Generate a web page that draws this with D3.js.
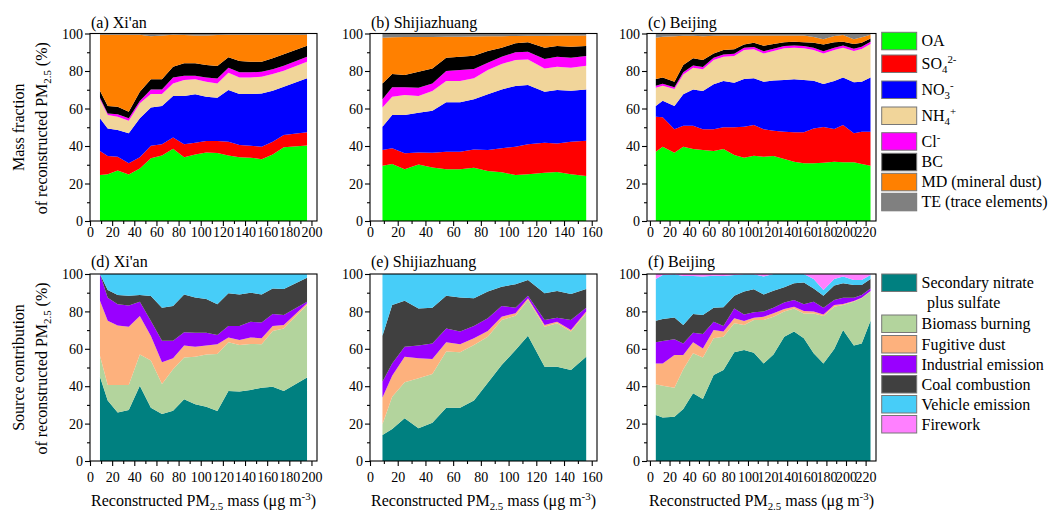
<!DOCTYPE html>
<html><head><meta charset="utf-8">
<script src="https://cdn.jsdelivr.net/npm/d3@7"></script>
<style>
body{margin:0;background:#fff}
text{font-family:"Liberation Serif","Times New Roman",serif;fill:#000}
</style>
</head><body>
<svg id="c" width="1051" height="514"></svg>
<script>
// ---------- x positions (PM2.5 bins, ug m-3) ----------
const xXian = [9, 16, 25, 35, 45, 55, 65, 75, 85, 95, 105, 115, 125, 135, 145, 155, 165, 175, 196];
const xSjz  = [9, 16, 25, 35, 45, 55, 65, 75, 85, 95, 105, 114, 126, 135, 145, 156];
const xBj   = [6, 13, 25, 34, 44, 54, 65, 75, 86, 96, 106, 116, 126, 137, 147, 157, 167, 177, 188, 197, 208, 216, 225];

// ---------- chemical mass fractions (%) ----------
const xianOA  = [24.5, 25, 27, 24.8, 28, 33.5, 35, 38.5, 34, 35.5, 36.5, 36.3, 35, 34, 33.8, 33, 35.5, 39.3, 40.3];
const xianSO4 = [12.8, 9.7, 7.3, 6.0, 6.0, 6.7, 6.0, 6.1, 7.0, 6.3, 6.2, 6.4, 7.3, 6.5, 6.4, 6.6, 6.8, 6.6, 7.0];
const xianNO3 = [17.5, 14.7, 14.2, 16.0, 20.8, 20.4, 20.3, 22.1, 25.7, 25.8, 23.6, 23.1, 27.6, 27.2, 27.5, 28.4, 27.2, 25.7, 28.8];
const xianNH4 = [10.1, 7.1, 7.1, 6.7, 8.0, 7.1, 6.4, 6.7, 8.5, 8.0, 8.0, 7.6, 9.2, 8.9, 8.9, 9.0, 8.9, 8.6, 8.9];
const xianCl  = [0.8, 0.9, 1.4, 1.3, 1.2, 2.5, 2.5, 3.2, 2.3, 1.9, 2.3, 2.6, 2.7, 2.7, 2.7, 2.6, 2.6, 2.6, 2.6];
const xianBC  = [3.8, 3.9, 4.0, 3.5, 5.0, 5.4, 5.4, 5.7, 6.6, 6.6, 6.6, 6.7, 5.5, 6.0, 5.7, 5.4, 5.8, 6.1, 5.9];
const xianMD  = [29.8, 38.0, 38.3, 41.0, 30.3, 23.0, 23.4, 17.0, 15.1, 14.9, 15.8, 16.5, 12.0, 14.0, 14.3, 14.3, 12.5, 10.4, 5.8];
const xianTE  = [0.7, 0.7, 0.7, 0.7, 0.7, 1.4, 1.0, 0.7, 0.8, 1.0, 1.0, 0.8, 0.7, 0.7, 0.7, 0.7, 0.7, 0.7, 0.7];

const sjzOA  = [29.5, 30.4, 27.6, 30.2, 28.6, 27.6, 27.6, 28.4, 26.7, 26, 24.5, 25, 25.8, 26.1, 24.9, 24];
const sjzSO4 = [8.4, 8.4, 8.5, 6.4, 7.8, 9.4, 9.4, 9.8, 11.2, 12.8, 15.1, 15.9, 16.0, 15.3, 17.4, 18.8];
const sjzNO3 = [12.4, 17.7, 20.4, 21.2, 22.4, 26.3, 26.3, 26.7, 29.7, 31.4, 32.4, 31.6, 27.2, 28.5, 27.2, 27.4];
const sjzNH4 = [10.3, 9.8, 10.7, 8.9, 10.5, 11.4, 11.4, 11.2, 12.9, 13.5, 13.9, 13.7, 12.4, 12.4, 12.3, 12.6];
const sjzCl  = [4.3, 5.0, 4.1, 4.4, 4.1, 5.3, 5.8, 5.0, 3.9, 3.9, 4.1, 4.1, 5.0, 5.3, 5.3, 5.2];
const sjzBC  = [8.5, 7.1, 6.6, 8.5, 8.0, 7.1, 7.1, 7.1, 6.3, 4.8, 4.8, 5.0, 6.0, 5.7, 5.9, 5.3];
const sjzMD  = [24.4, 19.6, 20.2, 18.6, 16.8, 11.2, 10.7, 10.2, 7.8, 6.2, 3.9, 3.5, 6.4, 5.6, 5.9, 5.7];
const sjzTE  = [2.2, 2.0, 1.9, 1.8, 1.8, 1.7, 1.7, 1.6, 1.5, 1.4, 1.3, 1.2, 1.2, 1.1, 1.1, 1.0];

const bjOA  = [37, 39.6, 36.4, 39.6, 38.4, 37.9, 37.3, 38.4, 35.2, 33.8, 34.8, 34.3, 34.7, 33.1, 31.6, 30.8, 30.8, 31.1, 31.6, 31.3, 31.3, 30.4, 29.5];
const bjSO4 = [18.6, 15.7, 12.5, 11.2, 12.4, 11.0, 11.6, 11.6, 14.8, 16.5, 16.4, 14.6, 13.5, 14.5, 15.7, 16.5, 18.6, 19.0, 17.5, 19.9, 15.5, 17.2, 18.1];
const bjNO3 = [5.7, 8.9, 12.4, 16.8, 19.4, 20.4, 24.0, 24.7, 23.8, 25.4, 24.9, 25.4, 26.8, 27.6, 28.3, 27.9, 25.4, 23.0, 25.6, 25.4, 27.2, 26.7, 29.0];
const bjNH4 = [9.8, 8.0, 9.1, 10.6, 11.6, 11.6, 13.0, 12.9, 14.2, 15.5, 15.5, 15.1, 15.7, 16.9, 16.8, 16.9, 16.4, 16.3, 16.5, 15.8, 16.7, 17.4, 17.8];
const bjCl  = [1.0, 1.0, 1.0, 1.2, 1.2, 1.2, 1.2, 1.2, 1.2, 1.2, 1.2, 1.2, 1.2, 1.2, 1.2, 1.2, 1.2, 1.2, 1.2, 1.2, 1.2, 1.2, 1.2];
const bjBC  = [3.6, 3.4, 2.9, 3.8, 3.8, 3.8, 2.3, 2.4, 2.4, 1.8, 2.3, 2.9, 2.5, 2.0, 2.0, 2.0, 2.7, 3.6, 2.9, 2.0, 2.5, 2.2, 1.8];
const bjMD  = [22.1, 21.7, 24.3, 15.6, 12.0, 12.6, 9.4, 7.8, 7.4, 4.8, 3.9, 5.5, 4.6, 3.7, 3.4, 3.7, 3.1, 2.8, 3.4, 3.6, 2.6, 2.9, 2.0];
const bjTE  = [2.2, 1.7, 1.4, 1.2, 1.2, 1.5, 1.2, 1.0, 1.0, 1.0, 1.0, 1.0, 1.0, 1.0, 1.0, 1.0, 1.8, 3.0, 1.3, 0.8, 3.0, 2.0, 0.6];

// ---------- source contributions (%) ----------
const xianSNS = [45.1, 32.3, 26, 27.3, 40.3, 28.5, 25.1, 26.9, 33, 30.3, 29, 26.7, 37.4, 37.1, 38, 39.2, 39.7, 37.4, 44.7];
const xianBB  = [11.2, 8.3, 14.6, 13.3, 16.7, 25.2, 16.1, 22.1, 22.3, 25.5, 28, 30.5, 26.1, 24.9, 24.6, 23.2, 29.8, 33.5, 38.7];
const xianFD  = [29.4, 34.4, 31.8, 31.2, 20.5, 13.1, 11.6, 5.9, 6.4, 5.3, 4.7, 5.2, 2.5, 2.7, 3.5, 3.2, 2.7, 1.8, 0.9];
const xianIE  = [14.3, 12.3, 11.4, 11.3, 7.7, 8.1, 11.5, 9.4, 7.1, 7.5, 6.9, 5.0, 6.2, 7.5, 8.4, 8.4, 6.4, 5.4, 0.9];
const xianCC  = [0, 4.1, 5.0, 5.3, 3.6, 13.3, 17.7, 18.6, 20.3, 18.9, 18.0, 16.4, 17.5, 16.9, 15.5, 15.1, 13.7, 13.9, 12.8];
const xianVE  = [0, 8.6, 11.2, 11.6, 11.2, 11.8, 18, 17.1, 10.9, 12.5, 13.4, 16.2, 10.3, 10.9, 10, 10.9, 7.7, 8, 2];
const xianFW  = [0, 0, 0, 0, 0, 0, 0, 0, 0, 0, 0, 0, 0, 0, 0, 0, 0, 0, 0];

const sjzSNS = [13.9, 17.1, 22.8, 17.5, 20.5, 28.5, 28.5, 32.3, 41.9, 51.3, 59.4, 67, 50.4, 50.4, 48.7, 55.8];
const sjzBB  = [5.7, 17.3, 19.3, 26.7, 26.0, 30.0, 29.6, 29.7, 24.6, 24.1, 18.3, 19.1, 21.4, 23.2, 20.5, 23.2];
const sjzFD  = [14.3, 11.2, 13.7, 10.7, 8.0, 5.0, 4.3, 3.6, 3.0, 1.8, 1.3, 0.9, 0.9, 0.9, 0.8, 0.9];
const sjzIE  = [8.5, 6.6, 5.3, 6.8, 8.4, 7.4, 6.8, 6.6, 6.8, 5.7, 3.0, 1.4, 2.7, 2.1, 5.4, 2.1];
const sjzCC  = [24.6, 31.2, 24.6, 19.9, 19.1, 17.5, 18.3, 14.8, 14.3, 10.3, 12.5, 8.4, 14.3, 14.3, 13.9, 10];
const sjzVE  = [33, 16.6, 14.3, 18.4, 18, 11.6, 12.5, 13, 9.4, 6.8, 5.5, 3.2, 10.3, 9.1, 10.7, 8];
const sjzFW  = [0, 0, 0, 0, 0, 0, 0, 0, 0, 0, 0, 0, 0, 0, 0, 0];

const bjSNS = [24.6, 23.2, 23.7, 27.8, 36.2, 33.2, 46, 48.7, 58.1, 59.4, 57.9, 52.2, 57, 66.5, 69.2, 65.6, 57.6, 52.2, 59.9, 70, 61.7, 62.9, 75];
const bjBB  = [16.4, 17.1, 15.5, 21.2, 21.4, 22.1, 19.6, 17.8, 15.5, 13.3, 17.5, 23.2, 20.2, 13.4, 12.4, 13.3, 21.3, 25.3, 22.6, 13.4, 23.5, 24.1, 15.6];
const bjFD  = [11.2, 11.9, 17.5, 7.7, 5.9, 4.9, 4.4, 2.7, 2.7, 2.2, 1.2, 1.8, 1.8, 1.4, 0.9, 1.3, 1.0, 0.9, 0.9, 0.6, 0.4, 0.3, 0.3];
const bjIE  = [11.3, 12.0, 8.4, 6.2, 5.1, 7.7, 4.5, 3.0, 5.3, 3.5, 2.9, 2.7, 3.0, 3.4, 3.6, 3.6, 5.3, 3.6, 2.7, 3.3, 1.7, 1.5, 1.4];
const bjCC  = [11.5, 11.7, 11.7, 9.8, 10.0, 10.2, 7.5, 10.0, 6.8, 12.2, 12.3, 9.2, 9.1, 8.2, 8.9, 11.7, 7.1, 6.4, 7.7, 7.7, 6.8, 5.3, 5.0];
const bjVE  = [22.3, 23.6, 23.0, 26.2, 20.3, 20.5, 17.1, 16.7, 11.1, 9.2, 8.0, 9.5, 8.9, 7.1, 5.0, 4.5, 5.0, 3.0, 3.5, 3.6, 2.7, 2.7, 2.2];
const bjFW  = [2.7, 0.5, 0.2, 1.1, 1.1, 1.4, 0.9, 1.1, 0.5, 0.2, 0.2, 1.4, 0, 0, 0, 0, 2.7, 8.6, 2.7, 1.4, 3.2, 3.2, 0.5];

// ---------- keys, colours, labels ----------
const chemKeys   = ['OA', 'SO4', 'NO3', 'NH4', 'Cl', 'BC', 'MD', 'TE'];
const chemColors = ['#00ff00', '#ff0000', '#0000ff', '#f1d59a', '#ff00ff', '#000000', '#ff8000', '#808080'];
const srcKeys    = ['SNS', 'BB', 'FD', 'IE', 'CC', 'VE', 'FW'];
const srcColors  = ['#008080', '#b3d49d', '#fdb17d', '#9900ff', '#404040', '#47cdf8', '#ff80ff'];
const panelTitles = ['(a) Xi\'an', '(b) Shijiazhuang', '(c) Beijing', '(d) Xi\'an', '(e) Shijiazhuang', '(f) Beijing'];
const xTicksXian = [0, 20, 40, 60, 80, 100, 120, 140, 160, 180, 200];
const xTicksSjz  = [0, 20, 40, 60, 80, 100, 120, 140, 160];
const xTicksBj   = [0, 20, 40, 60, 80, 100, 120, 140, 160, 180, 200, 220];
const yTicks     = [0, 20, 40, 60, 80, 100];

// ---------- layout ----------
const svg = d3.select('#c');
const FONT = 14;
const cols = [
  {x0: 90,  x1: 317, dom: [0, 205],    xs: xXian, ticks: xTicksXian},
  {x0: 370, x1: 597, dom: [0, 163.8],  xs: xSjz,  ticks: xTicksSjz},
  {x0: 647, x1: 876, dom: [-3, 230.6], xs: xBj,   ticks: xTicksBj}
];
const rows = [
  {y0: 33.5, y1: 221, keys: chemKeys, colors: chemColors,
   data: [[xianOA, xianSO4, xianNO3, xianNH4, xianCl, xianBC, xianMD, xianTE],
          [sjzOA, sjzSO4, sjzNO3, sjzNH4, sjzCl, sjzBC, sjzMD, sjzTE],
          [bjOA, bjSO4, bjNO3, bjNH4, bjCl, bjBC, bjMD, bjTE]],
   tickLabelY: 236.5, titleY: 27.5},
  {y0: 274, y1: 461, keys: srcKeys, colors: srcColors,
   data: [[xianSNS, xianBB, xianFD, xianIE, xianCC, xianVE, xianFW],
          [sjzSNS, sjzBB, sjzFD, sjzIE, sjzCC, sjzVE, sjzFW],
          [bjSNS, bjBB, bjFD, bjIE, bjCC, bjVE, bjFW]],
   tickLabelY: 481.5, titleY: 266.5}
];

function rich(sel, parts, size) {
  let prev = 0;
  parts.forEach(p => {
    const s = p.s || 0;
    sel.append('tspan').attr('dy', s - prev)
      .attr('font-size', s === 0 ? size : size * 0.68)
      .text(p.t);
    prev = s;
  });
}

rows.forEach((row, ri) => {
  cols.forEach((col, ci) => {
    const x = d3.scaleLinear().domain(col.dom).range([col.x0, col.x1]);
    const y = d3.scaleLinear().domain([0, 100]).range([row.y1, row.y0]);
    const series = row.data[ci];
    const table = col.xs.map((xv, i) => {
      const o = {x: xv};
      row.keys.forEach((k, j) => o[k] = series[j][i]);
      return o;
    });
    const stacked = d3.stack().keys(row.keys)(table);
    const area = d3.area()
      .x(d => x(d.data.x)).y0(d => y(d[0])).y1(d => y(Math.min(100, d[1])));
    const g = svg.append('g');
    g.selectAll('path.a').data(stacked).join('path')
      .attr('fill', (d, i) => row.colors[i])
      .attr('d', area);

    // minor ticks
    const xMinor = d3.axisBottom(x).tickValues(col.ticks.slice(0, -1).map(t => t + 10)
        .filter(t => t < col.dom[1])).tickSize(3).tickFormat('').tickSizeOuter(0);
    const yMinor = d3.axisLeft(y).tickValues([10, 30, 50, 70, 90]).tickSize(3).tickFormat('').tickSizeOuter(0);
    const gxm = g.append('g').attr('transform', `translate(0,${row.y1})`).call(xMinor);
    const gym = g.append('g').attr('transform', `translate(${col.x0},0)`).call(yMinor);
    gxm.selectAll('text').remove();
    gym.selectAll('text').remove();
    // major ticks
    const xAxis = d3.axisBottom(x).tickValues(col.ticks).tickSize(5).tickSizeOuter(0);
    const yAxis = d3.axisLeft(y).tickValues(yTicks).tickSize(5).tickPadding(2).tickSizeOuter(0);
    const gx = g.append('g').attr('transform', `translate(0,${row.y1})`).call(xAxis);
    const gy = g.append('g').attr('transform', `translate(${col.x0},0)`).call(yAxis);
    [gxm, gym, gx, gy].forEach(a => {
      a.select('.domain').remove();
      a.selectAll('line').attr('stroke', '#000').attr('stroke-width', 1.1);
      a.attr('font-family', null).attr('font-size', null);
    });
    gx.selectAll('text').attr('y', row.tickLabelY - row.y1).attr('dy', null)
      .attr('font-size', FONT).style('fill', '#000');
    gy.selectAll('text').attr('font-size', FONT).style('fill', '#000').attr('dy', '0.34em');

    // frame
    g.append('rect').attr('x', col.x0).attr('y', row.y0)
      .attr('width', col.x1 - col.x0).attr('height', row.y1 - row.y0)
      .attr('fill', 'none').attr('stroke', '#000').attr('stroke-width', 1.1);

    // title
    svg.append('text').attr('x', col.x0 + 1).attr('y', row.titleY)
      .attr('font-size', 16).text(panelTitles[ri * 3 + ci]);

    // x-axis title (bottom row)
    if (ri === 1) {
      const t = svg.append('text').attr('x', (col.x0 + col.x1) / 2).attr('y', 506)
        .attr('text-anchor', 'middle').attr('font-size', 16);
      rich(t, [{t: 'Reconstructed PM'}, {t: '2.5', s: 4}, {t: ' mass (\u03bcg m'}, {t: '-3', s: -6}, {t: ')'}], 16);
    }
  });
});

// y-axis titles
[[rows[0], 'Mass fraction'], [rows[1], 'Source contribution']].forEach(([row, l1]) => {
  const cy = (row.y0 + row.y1) / 2;
  svg.append('text').attr('transform', `translate(24,${cy}) rotate(-90)`)
    .attr('text-anchor', 'middle').attr('font-size', 16).text(l1);
  const t = svg.append('text').attr('transform', `translate(46.5,${cy + 1}) rotate(-90)`)
    .attr('text-anchor', 'middle').attr('font-size', 16);
  rich(t, [{t: 'of reconstructed PM'}, {t: '2.5', s: 4}, {t: ' (%)'}], 16);
});

// legends
const chemLegend = [
  {top: 32.3,  parts: [{t: 'OA'}]},
  {top: 55,    parts: [{t: 'SO'}, {t: '4', s: 4}, {t: '2-', s: -6}]},
  {top: 81,    parts: [{t: 'NO'}, {t: '3', s: 4}, {t: '-', s: -6}]},
  {top: 107,   parts: [{t: 'NH'}, {t: '4', s: 4}, {t: '+', s: -6}]},
  {top: 132.7, parts: [{t: 'Cl'}, {t: '-', s: -6}]},
  {top: 153.3, parts: [{t: 'BC'}]},
  {top: 173.3, parts: [{t: 'MD (mineral dust)'}]},
  {top: 193.3, parts: [{t: 'TE (trace elements)'}]}
];
const srcLegend = [
  {top: 274, parts: [{t: 'Secondary nitrate'}], extra: 'plus sulfate'},
  {top: 315, parts: [{t: 'Biomass burning'}]},
  {top: 335.5, parts: [{t: 'Fugitive dust'}]},
  {top: 355.5, parts: [{t: 'Industrial emission'}]},
  {top: 375.5, parts: [{t: 'Coal combustion'}]},
  {top: 395.5, parts: [{t: 'Vehicle emission'}]},
  {top: 415.5, parts: [{t: 'Firework'}]}
];
function legend(items, colors) {
  items.forEach((it, i) => {
    svg.append('rect').attr('x', 881.7).attr('y', it.top).attr('width', 35).attr('height', 17.5)
      .attr('fill', colors[i]).attr('stroke', '#777').attr('stroke-width', 1);
    const t = svg.append('text').attr('x', 921.5).attr('y', it.top + 14).attr('font-size', 16);
    rich(t, it.parts, 16);
    if (it.extra) svg.append('text').attr('x', 927).attr('y', it.top + 34).attr('font-size', 16).text(it.extra);
  });
}
legend(chemLegend, chemColors);
legend(srcLegend, srcColors);
</script>
</body></html>
